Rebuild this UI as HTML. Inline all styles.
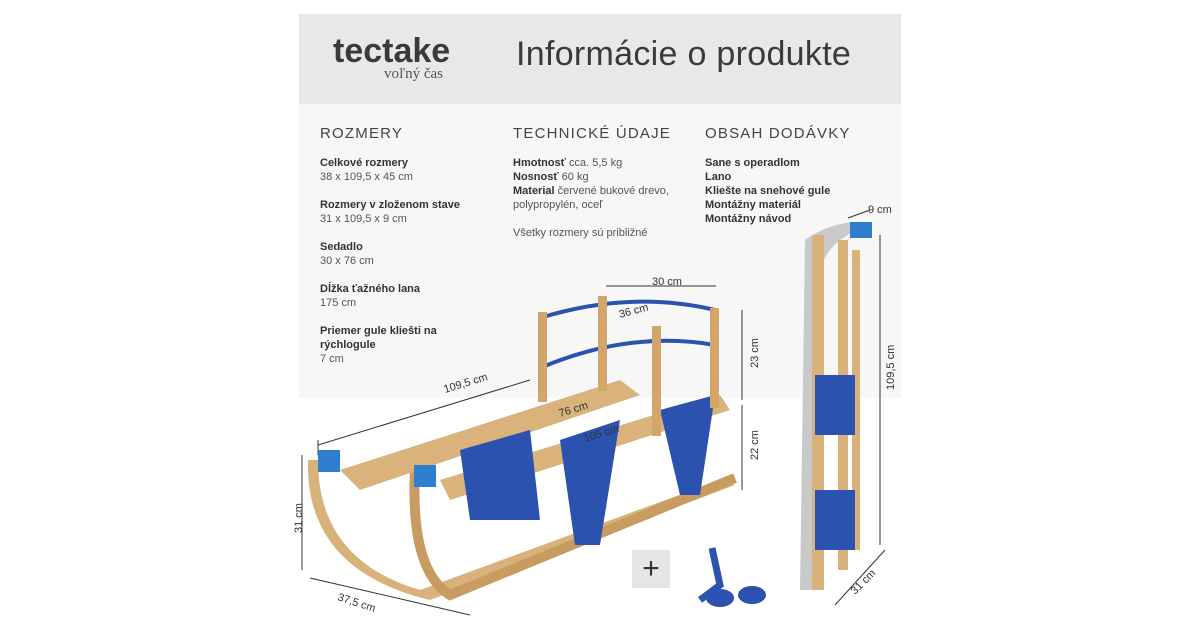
<!DOCTYPE html>
<html><head><meta charset="utf-8"><style>
body{margin:0;width:1200px;height:630px;background:#fff;position:relative;overflow:hidden;font-family:"Liberation Sans",sans-serif;color:#3c3c3c}
.hd{position:absolute;left:299px;top:14px;width:602px;height:90px;background:#e8e8e8}
.bd{position:absolute;left:299px;top:104px;width:602px;height:294px;background:#f7f7f7}
.t{position:absolute;white-space:nowrap}
h3{margin:0;font-weight:normal;font-size:15px;letter-spacing:1.2px;color:#444}
.s{font-size:11px;line-height:14px;color:#555}
.s b{color:#333}
</style></head><body>
<div class="hd"></div><div class="bd"></div>
<div class="t" style="left:333px;top:32px;font-size:34px;font-weight:bold;color:#3a3a3a;letter-spacing:0px">tectake</div>
<div class="t" style="left:384px;top:66px;font-size:15px;font-family:'Liberation Serif',serif;color:#555">voľný čas</div>
<div class="t" style="left:516px;top:35px;font-size:34px;color:#3a3a3a;letter-spacing:0.3px">Informácie o produkte</div>
<div class="t" style="left:320px;top:125px"><h3>ROZMERY</h3></div>
<div class="t" style="left:513px;top:125px"><h3>TECHNICKÉ ÚDAJE</h3></div>
<div class="t" style="left:705px;top:125px"><h3>OBSAH DODÁVKY</h3></div>
<div class="t s" style="left:320px;top:156px"><b>Celkové rozmery</b><br>38 x 109,5 x 45 cm<br><br><b>Rozmery v zloženom stave</b><br>31 x 109,5 x 9 cm<br><br><b>Sedadlo</b><br>30 x 76 cm<br><br><b>Dĺžka ťažného lana</b><br>175 cm<br><br><b>Priemer gule kliešti na</b><br><b>rýchlogule</b><br>7 cm</div>
<div class="t s" style="left:513px;top:156px"><b>Hmotnosť</b> cca. 5,5 kg<br><b>Nosnosť</b> 60 kg<br><b>Material</b> červené bukové drevo,<br>polypropylén, oceľ<br><br>Všetky rozmery sú približné</div>
<div class="t s" style="left:705px;top:156px;font-weight:bold;color:#333">Sane s operadlom<br>Lano<br>Kliešte na snehové gule<br>Montážny materiál<br>Montážny návod</div>
<svg width="1200" height="630" style="position:absolute;left:0;top:0" font-family="Liberation Sans" font-size="11" fill="#333">
<g stroke="#333" stroke-width="1" fill="none">
<line x1="318" y1="445" x2="530" y2="380"/><line x1="318" y1="455" x2="318" y2="440"/>
<line x1="606" y1="286" x2="716" y2="286"/>
<line x1="742" y1="310" x2="742" y2="400"/><line x1="742" y1="405" x2="742" y2="490"/>
<line x1="302" y1="455" x2="302" y2="570"/>
<line x1="310" y1="578" x2="470" y2="615"/>
<line x1="848" y1="218" x2="870" y2="210"/>
<line x1="880" y1="235" x2="880" y2="545"/>
<line x1="835" y1="605" x2="885" y2="550"/>
</g>
<path d="M318 460 Q318 560 420 590 L720 480 L735 485 L430 600 Q305 570 308 460Z" fill="#d8b27a"/>
<path d="M415 470 Q410 570 450 595 L735 478" stroke="#c89c60" stroke-width="10" fill="none"/>
<path d="M340 470 L620 380 L640 395 L360 490Z" fill="#d9b27c"/>
<path d="M440 480 L720 395 L730 410 L450 500Z" fill="#d9b27c"/>
<path d="M460 450 L530 430 L540 520 L470 520Z" fill="#2c52b0"/>
<path d="M560 440 L620 420 L600 545 L575 545Z" fill="#2c52b0"/>
<path d="M660 410 L715 395 L700 495 L680 495Z" fill="#2c52b0"/>
<path d="M540 318 Q630 290 715 310" stroke="#2c52b0" stroke-width="4" fill="none"/>
<path d="M540 368 Q630 330 715 345" stroke="#2c52b0" stroke-width="4" fill="none"/>
<rect x="538" y="312" width="9" height="90" fill="#d4a56a"/>
<rect x="598" y="296" width="9" height="95" fill="#d4a56a"/>
<rect x="652" y="326" width="9" height="110" fill="#d4a56a"/>
<rect x="710" y="308" width="9" height="100" fill="#d4a56a"/>
<rect x="318" y="450" width="22" height="22" fill="#2f7fd0"/>
<rect x="414" y="465" width="22" height="22" fill="#2f7fd0"/>
<path d="M805 240 Q830 222 860 222 L848 235 Q820 250 815 290 L812 590 L800 590 Z" fill="#c9c9c9"/>
<rect x="812" y="235" width="12" height="355" fill="#d8b27a"/>
<rect x="838" y="240" width="10" height="330" fill="#d8b27a"/>
<rect x="852" y="250" width="8" height="300" fill="#d8b27a"/>
<rect x="815" y="375" width="40" height="60" fill="#2c52b0"/>
<rect x="815" y="490" width="40" height="60" fill="#2c52b0"/>
<rect x="850" y="222" width="22" height="16" fill="#2f7fd0"/>
<rect x="632" y="550" width="38" height="38" fill="#e5e5e5"/>
<text x="651" y="578" font-size="30" text-anchor="middle" fill="#333">+</text>
<path d="M712 548 L720 585 L700 600" stroke="#2c52b0" stroke-width="7" fill="none"/>
<ellipse cx="720" cy="598" rx="14" ry="9" fill="#2c52b0"/><ellipse cx="752" cy="595" rx="14" ry="9" fill="#2c52b0"/>
<text x="445" y="393" transform="rotate(-17 445 393)">109,5 cm</text>
<text x="652" y="285">30 cm</text>
<text x="620" y="318" transform="rotate(-15 620 318)">36 cm</text>
<text x="560" y="417" transform="rotate(-17 560 417)">76 cm</text>
<text x="585" y="442" transform="rotate(-17 585 442)">105 cm</text>
<text x="758" y="368" transform="rotate(-90 758 368)">23 cm</text>
<text x="758" y="460" transform="rotate(-90 758 460)">22 cm</text>
<text x="302" y="533" transform="rotate(-90 302 533)">31 cm</text>
<text x="337" y="600" transform="rotate(18 337 600)">37,5 cm</text>
<text x="868" y="213">9 cm</text>
<text x="894" y="390" transform="rotate(-90 894 390)">109,5 cm</text>
<text x="855" y="595" transform="rotate(-45 855 595)">31 cm</text>
</svg>
</body></html>
